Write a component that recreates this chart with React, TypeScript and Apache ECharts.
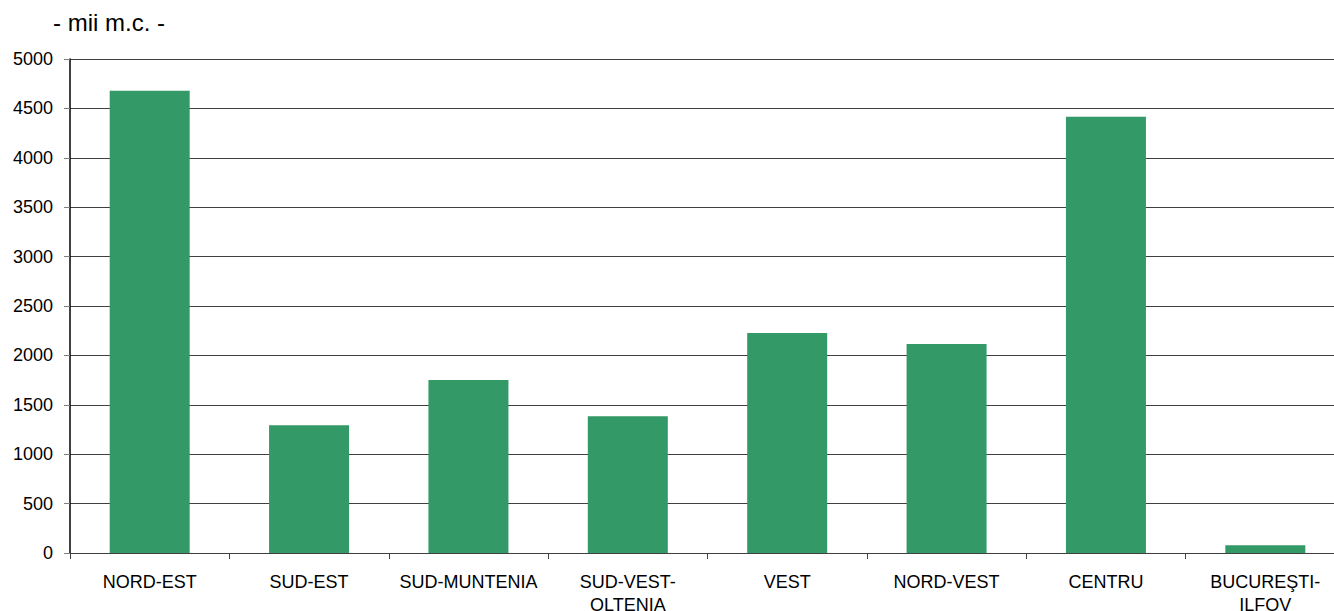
import React, { useEffect, useRef } from "react";
import * as echarts from "echarts";

const categories = [
  "NORD-EST",
  "SUD-EST",
  "SUD-MUNTENIA",
  "SUD-VEST-\nOLTENIA",
  "VEST",
  "NORD-VEST",
  "CENTRU",
  "BUCUREŞTI-\nILFOV",
];
const values = [4679, 1294, 1750, 1385, 2226, 2115, 4415, 78];
const unitLabel = "- mii m.c. -";

export default function App() {
  const ref = useRef<HTMLDivElement>(null);
  useEffect(() => {
    if (!ref.current) return;
    const chart = echarts.init(ref.current, null, { renderer: "svg" });
    const font = "'Liberation Sans', Arial, sans-serif";
    chart.setOption({
      animation: false,
      backgroundColor: "#ffffff",
      title: {
        text: unitLabel,
        left: 48,
        top: 5,
        textStyle: { fontFamily: font, fontSize: 24, fontWeight: "normal", color: "#000" },
      },
      grid: {
        left: 70,
        right: -11,
        top: 59,
        bottom: 58,
        containLabel: false,
        outerBoundsMode: "none",
      },
      xAxis: {
        type: "category",
        data: categories,
        boundaryGap: true,
        axisLine: { show: true, lineStyle: { color: "#404040", width: 1 } },
        axisTick: { show: true, length: 6, lineStyle: { color: "#404040" } },
        axisLabel: {
          interval: 0,
          margin: 17,
          fontFamily: font,
          fontSize: 18,
          color: "#000",
          lineHeight: 23,
        },
      },
      yAxis: {
        type: "value",
        min: 0,
        max: 5000,
        interval: 500,
        axisLine: { show: true, lineStyle: { color: "#000", width: 1.5 } },
        axisTick: { show: true, length: 6, lineStyle: { color: "#808080" } },
        splitLine: { show: true, lineStyle: { color: "#404040", width: 1 } },
        axisLabel: {
          margin: 17,
          fontFamily: font,
          fontSize: 18,
          color: "#000",
          formatter: (v: number) => String(v),
        },
      },
      series: [
        {
          type: "bar",
          data: values,
          barWidth: 80,
          itemStyle: { color: "#339966" },
        },
      ],
    });
    return () => chart.dispose();
  }, []);
  return (
    <div
      ref={ref}
      style={{ position: "fixed", left: 0, top: 0, width: 1334, height: 611 }}
    />
  );
}
